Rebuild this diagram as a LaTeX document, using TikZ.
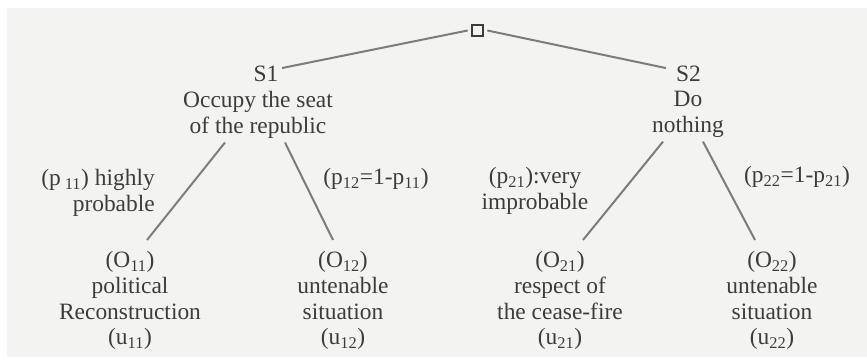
\documentclass[tikz,border=0pt]{standalone}
\usepackage{fontspec}
\setmainfont{Liberation Serif}
\definecolor{paper}{HTML}{F3F3F1}
\definecolor{ink}{HTML}{3C3C3C}
\definecolor{pencil}{HTML}{7C7C7C}
\begin{document}
\begin{tikzpicture}[
    txt/.style={text=ink, inner sep=0, align=center, font=\fontsize{20}{22}\selectfont},
    branch/.style={draw=pencil, line width=0.06cm}]
            \useasboundingbox (0,0) rectangle (26.010000,10.860000);
            % Scanned sheet
            \fill [paper] (0.210000,0.150000) rectangle (26.010000,10.620000);%

            % Decision node
            \node (root) [draw=ink, line width=0.04cm, minimum size=0.33cm, inner sep=0, outer sep=0.13cm] at (14.325000,9.945000) {};%

            % Strategies S1 and S2
            \node (s1) [txt, inner sep=0.1cm, anchor=base] at (7.980000,8.415000) {S1};%
            \node (d1) [txt, inner ysep=0.12cm, anchor=north] at (7.740000,8.250000) {Occupy the seat\\of the republic};%
            \node (s2) [txt, inner sep=0.1cm, anchor=base] at (20.655000,8.415000) {S2};%
            \node (d2) [txt, inner ysep=0.12cm, anchor=north] at (20.640000,8.250000) {Do\\nothing};%

            % Probabilities
            \node (p11) [txt, align=right, anchor=north east] at (4.650000,5.790000) {(p\,\textsubscript{11}) highly\\probable};%
            \node (p12) [txt, anchor=base] at (11.280000,5.310000) {(p\textsubscript{12}=1-p\textsubscript{11})};%
            \node (p21) [txt, anchor=north] at (16.050000,5.850000) {(p\textsubscript{21}):very\\improbable};%
            \node (p22) [txt, anchor=base] at (23.910000,5.370000) {(p\textsubscript{22}=1-p\textsubscript{21})};%

            % Outcomes
            \node (o11) [txt, inner ysep=0.33cm, anchor=north] at (3.900000,3.660000) {(O\textsubscript{11})\\political\\Reconstruction\\(u\textsubscript{11})};%
            \node (o12) [txt, inner ysep=0.33cm, anchor=north] at (10.290000,3.660000) {(O\textsubscript{12})\\untenable\\situation\\(u\textsubscript{12})};%
            \node (o21) [txt, inner ysep=0.33cm, anchor=north] at (16.800000,3.660000) {(O\textsubscript{21})\\respect of\\the cease-fire\\(u\textsubscript{21})};%
            \node (o22) [txt, inner ysep=0.33cm, anchor=north] at (23.160000,3.660000) {(O\textsubscript{22})\\untenable\\situation\\(u\textsubscript{22})};%

            % Drawing branches root S1 S2
            \draw [branch] (root.west) -- (s1.20);%
            \draw [branch] (root.east) -- ([xshift=-0.2cm]s2.160);%

            % Drawing branches S1 O11 O12
            \draw [branch] ([xshift=-0.99cm]d1.south) -- ([xshift=0.51cm]o11.north);%
            \draw [branch] ([xshift=0.81cm]d1.south) -- ([xshift=-0.30cm]o12.north);%

            % Drawing branches S2 O21 O22
            \draw [branch] ([xshift=-0.75cm]d2.south) -- ([xshift=0.69cm]o21.north);%
            \draw [branch] ([xshift=0.45cm]d2.south) -- ([xshift=-0.51cm]o22.north);%
        \end{tikzpicture}
\end{document}
